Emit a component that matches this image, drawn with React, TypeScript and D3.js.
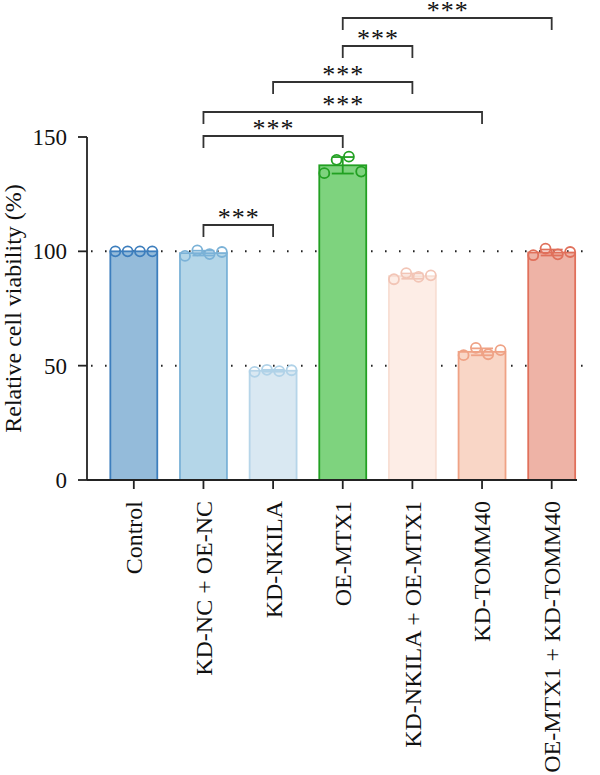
import React from "react";
import * as d3 from "d3";

// Groups along the x axis
const groups = [
  "Control",
  "KD-NC + OE-NC",
  "KD-NKILA",
  "OE-MTX1",
  "KD-NKILA + OE-MTX1",
  "KD-TOMM40",
  "OE-MTX1 + KD-TOMM40",
];

// Replicate measurements per group (relative cell viability, %)
const replicates: number[][] = [
  [100, 100, 100, 100],
  [98, 100.4, 98.8, 99.7],
  [47.3, 48.2, 47.6, 48.0],
  [134.2, 140.0, 141.4, 134.9],
  [87.8, 90.5, 88.8, 89.5],
  [54.6, 57.8, 55.0, 56.8],
  [98.3, 101.2, 98.7, 99.7],
];

const fills = ["#94bbda", "#b4d6e8", "#d9e8f2", "#7ed37e", "#fdede6", "#f9d6c6", "#eeb3a6"];
const strokes = ["#3d7ebd", "#7bb2d7", "#b6d5e9", "#22a022", "#f8dfd4", "#efa285", "#e0705b"];
const pointStrokes = ["#3d7ebd", "#7bb2d7", "#b0d2e8", "#22a022", "#f2c5b6", "#efa285", "#e0705b"];

// Pairwise comparisons: [from group, to group, level]
const comparisons: [number, number, number][] = [
  [1, 2, 0],
  [1, 3, 1],
  [1, 5, 2],
  [2, 4, 3],
  [3, 4, 4],
  [3, 6, 5],
];
const bracketY = [225, 136, 112, 82, 46, 18];
const yTicks = [0, 50, 100, 150];

const W = 600;
const H = 775;
const left = 87;
const right = 587;

export default function App() {
  const x = d3
    .scaleBand<string>()
    .domain(groups)
    .range([98.5, 587])
    .paddingInner(0.326)
    .paddingOuter(0.17);
  const y = d3.scaleLinear().domain([0, 150]).range([480, 137]);
  const bw = x.bandwidth();

  const stats = replicates.map((r) => {
    const m = d3.mean(r) as number;
    const sd = d3.deviation(r) as number;
    return { m, sd: sd || 0 };
  });

  const serif = "'Liberation Serif', 'Times New Roman', serif";
  const cx = (i: number) => (x(groups[i]) as number) + bw / 2;

  return (
    <svg
      width={W}
      height={H}
      style={{ position: "absolute", left: 0, top: 0, background: "#fff" }}
      fontFamily={serif}
    >
      {/* dotted reference lines */}
      {[50, 100].map((v) => (
        <line
          key={v}
          x1={left + 4}
          x2={right + 4}
          y1={y(v)}
          y2={y(v)}
          stroke="#222"
          strokeWidth={2}
          strokeDasharray="1.6 12.4"
          strokeLinecap="butt"
        />
      ))}

      {/* bars */}
      {groups.map((g, i) => (
        <rect
          key={g}
          x={x(g)}
          y={y(stats[i].m)}
          width={bw}
          height={y(0) - y(stats[i].m)}
          fill={fills[i]}
          stroke={strokes[i]}
          strokeWidth={1.8}
        />
      ))}

      {/* error bars (mean ± SD) */}
      {groups.map((g, i) => {
        const c = cx(i);
        const { m, sd } = stats[i];
        if (sd < 0.3) return null;
        return (
          <g key={g} stroke={pointStrokes[i]} strokeWidth={1.8}>
            <line x1={c} x2={c} y1={y(m + sd)} y2={y(m - sd)} />
            <line x1={c - 11} x2={c + 11} y1={y(m + sd)} y2={y(m + sd)} />
            <line x1={c - 11} x2={c + 11} y1={y(m - sd)} y2={y(m - sd)} />
          </g>
        );
      })}

      {/* replicate points */}
      {replicates.map((r, i) =>
        r.map((v, j) => (
          <circle
            key={`${i}-${j}`}
            cx={cx(i) + (j - 1.5) * 12.3}
            cy={y(v)}
            r={5}
            fill="none"
            stroke={pointStrokes[i]}
            strokeWidth={1.8}
          />
        ))
      )}

      {/* y axis */}
      <line x1={left} x2={left} y1={y(150)} y2={y(0)} stroke="#222" strokeWidth={1.8} />
      {yTicks.map((t) => (
        <g key={t}>
          <line x1={left - 9} x2={left} y1={y(t)} y2={y(t)} stroke="#222" strokeWidth={1.8} />
          <text
            x={left - 20}
            y={y(t)}
            dy="0.35em"
            textAnchor="end"
            fontSize={23}
            fill="#111"
          >
            {t}
          </text>
        </g>
      ))}
      <text
        transform={`translate(13, ${y(75)}) rotate(-90)`}
        textAnchor="middle"
        dy="0.35em"
        fontSize={24}
        fill="#111"
      >
        Relative cell viability (%)
      </text>

      {/* x axis */}
      <line x1={left} x2={577} y1={y(0)} y2={y(0)} stroke="#222" strokeWidth={1.8} />
      {groups.map((g, i) => (
        <g key={g}>
          <line x1={cx(i)} x2={cx(i)} y1={y(0)} y2={y(0) + 9} stroke="#222" strokeWidth={1.8} />
          <text
            transform={`translate(${cx(i)}, ${y(0) + 21}) rotate(-90)`}
            textAnchor="end"
            dy="0.35em"
            fontSize={24}
            fill="#111"
          >
            {g}
          </text>
        </g>
      ))}

      {/* significance brackets */}
      {comparisons.map(([a, b, lvl]) => {
        const yb = bracketY[lvl];
        const x1 = cx(a);
        const x2 = cx(b);
        return (
          <g key={`${a}-${b}`}>
            <path
              d={`M${x1},${yb + 12}V${yb}H${x2}V${yb + 12}`}
              fill="none"
              stroke="#333"
              strokeWidth={1.8}
            />
            <text
              x={(x1 + x2) / 2 + 0.5}
              y={yb + 0.5}
              textAnchor="middle"
              fontSize={26}
              letterSpacing={1}
              fill="#111"
            >
              ***
            </text>
          </g>
        );
      })}
    </svg>
  );
}
